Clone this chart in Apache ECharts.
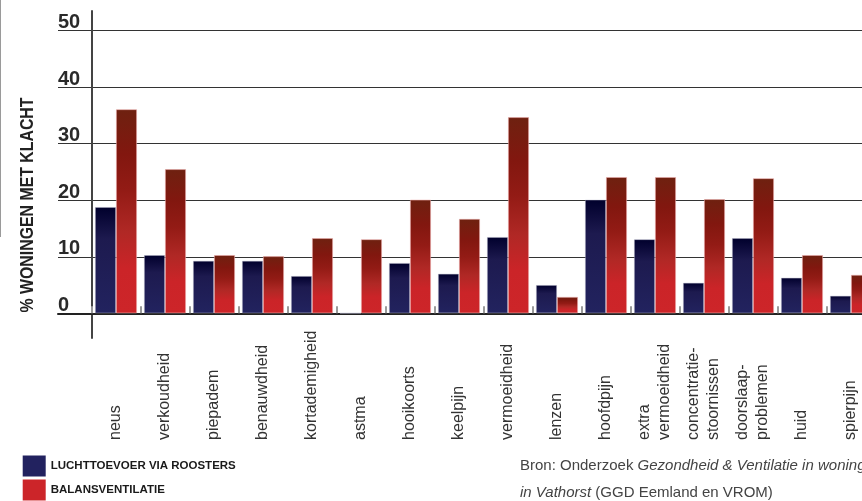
<!DOCTYPE html>
<html>
<head>
<meta charset="utf-8">
<script src="https://cdn.jsdelivr.net/npm/echarts@6/dist/echarts.min.js"></script>
<style>
html,body{margin:0;padding:0;background:#fff;}
#chart{width:862px;height:501px;}
</style>
</head>
<body>
<div id="chart"></div>
<script>
const categories = ['neus','verkoudheid','piepadem','benauwdheid','kortademigheid','astma','hooikoorts','keelpijn','vermoeidheid','lenzen','hoofdpijn','extra\nvermoeidheid','concentratie-\nstoornissen','doorslaap-\nproblemen','huid','spierpijn'];
const roosters = [18.8,10.3,9.3,9.3,6.6,0,8.9,7.0,13.5,5.0,20.1,13.1,5.4,13.3,6.3,3.1];
const balans = [36.1,25.5,10.3,10.1,13.3,13.1,20.1,16.7,34.7,2.9,24.1,24.1,20.2,23.9,10.3,6.8];
const seriesNames = ['LUCHTTOEVOER VIA ROOSTERS','BALANSVENTILATIE'];
const yTitle = '% WONINGEN MET KLACHT';
const sourceText = 'Bron: Onderzoek {i|Gezondheid & Ventilatie in woningen}\n{i|in Vathorst} (GGD Eemland en VROM)';

const SANS = "'Liberation Sans',Arial,sans-serif";
const chart = echarts.init(document.getElementById('chart'), null, {renderer:'canvas'});

const navyGrad = new echarts.graphic.LinearGradient(0,0,0,1,[
  {offset:0,color:'#00002c'},{offset:0.12,color:'#0c0a3a'},{offset:0.3,color:'#1d1a4f'},{offset:1,color:'#22235f'}]);
const redGrad = new echarts.graphic.LinearGradient(0,0,0,1,[
  {offset:0,color:'#6e2110'},{offset:0.22,color:'#82170f'},{offset:0.4,color:'#931b15'},{offset:0.6,color:'#b02825'},{offset:0.78,color:'#cb2428'},{offset:1,color:'#cd2529'}]);

const option = {
  backgroundColor:'#fff',
  animation:false,
  grid:[
    {left:58, top:30.7, width:817, height:282.6, outerBoundsMode:'none', containLabel:false},
    {left:91.5, top:11, width:784, height:327, outerBoundsMode:'none', containLabel:false}
  ],
  xAxis:[
    {gridIndex:0, type:'category', data:categories,
     axisLine:{show:true, lineStyle:{color:'#222', width:2}},
     axisTick:{show:false}, axisLabel:{show:false}, splitLine:{show:false}},
    {gridIndex:1, type:'category', data:categories,
     axisLine:{show:true, onZero:true, lineStyle:{color:'#222', width:2}},
     axisTick:{show:true, inside:true, length:7, lineStyle:{color:'#9a9a9a', width:2}},
     axisLabel:{show:true, interval:0, rotate:90, align:'left', verticalAlign:'middle', margin:102,
       fontFamily:SANS, fontSize:16, color:'#333', lineHeight:20, padding:[0,0,0,0]}}
  ],
  yAxis:[
    {gridIndex:0, type:'value', min:0, max:50, interval:10,
     axisLine:{show:false}, axisTick:{show:false},
     splitLine:{show:true, lineStyle:{color:'#333', width:1.2}},
     axisLabel:{show:true, inside:true, margin:0, align:'left', verticalAlign:'bottom', lineHeight:16,
       fontFamily:SANS, fontWeight:'bold', fontSize:20, color:'#2a2a2a'}},
    {gridIndex:1, type:'value', min:-4.37, max:53.49,
     axisLine:{show:true, lineStyle:{color:'#444', width:2}},
     axisTick:{show:false}, axisLabel:{show:false}, splitLine:{show:false}}
  ],
  legend:{
    orient:'vertical', left:22.7, top:455.5, itemWidth:23, itemHeight:21, itemGap:3, padding:0,
    icon:'rect',
    textStyle:{fontFamily:SANS, fontWeight:'bold', fontSize:11.5, color:'#1a1a1a'},
    data:[
      {name:seriesNames[0], itemStyle:{color:'#22225f', borderWidth:0}},
      {name:seriesNames[1], itemStyle:{color:'#cc2529', borderWidth:0}}
    ]
  },
  series:[
    {name:seriesNames[0], type:'bar', xAxisIndex:1, yAxisIndex:1, data:roosters,
     barWidth:21, barGap:'0%',
     itemStyle:{color:navyGrad, borderColor:'rgba(180,180,200,0.5)', borderWidth:0.8}},
    {name:seriesNames[1], type:'bar', xAxisIndex:1, yAxisIndex:1, data:balans,
     barWidth:21, barGap:'0%',
     itemStyle:{color:redGrad, borderColor:'rgba(235,170,170,0.7)', borderWidth:0.8}}
  ],
  graphic:[
    {type:'line', shape:{x1:0.5, y1:0, x2:0.5, y2:237}, style:{stroke:'#9a9a9a', lineWidth:1}},
    {type:'text', x:28, y:205, rotation:Math.PI/2, scaleX:0.835,
     style:{text:yTitle, align:'center', verticalAlign:'middle', fill:'#222',
       font:"bold 19px " + SANS}},
    {type:'text', x:520, y:452.5,
     style:{text:sourceText, fill:'#444', fontFamily:SANS, fontSize:15, lineHeight:27,
       rich:{i:{fontStyle:'italic', fontFamily:SANS, fontSize:15, lineHeight:27, fill:'#444'}}}}
  ]
};
chart.setOption(option);
</script>
</body>
</html>
